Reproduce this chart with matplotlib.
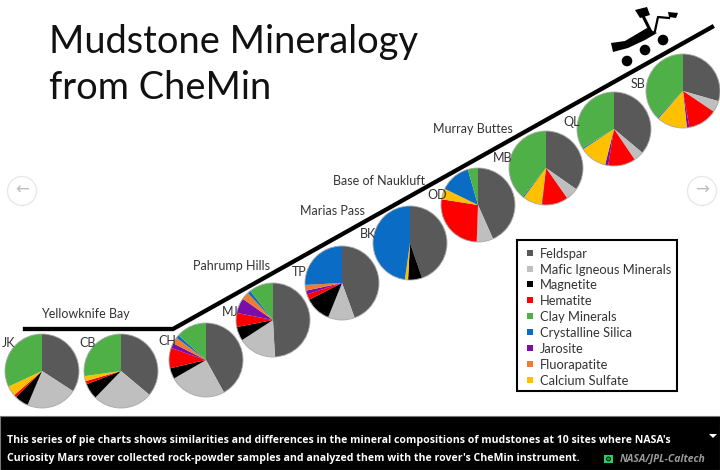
import matplotlib
matplotlib.use('Agg')
import matplotlib.pyplot as plt
from matplotlib.patches import Circle, Polygon, Rectangle

plt.rcParams['font.family'] = ['Lato', 'DejaVu Sans']

minerals = ['Feldspar', 'Mafic Igneous Minerals', 'Magnetite', 'Hematite', 'Clay Minerals',
            'Crystalline Silica', 'Jarosite', 'Fluorapatite', 'Calcium Sulfate']
colors = {'Feldspar': '#595959', 'Mafic Igneous Minerals': '#bfbfbf', 'Magnetite': '#000000',
          'Hematite': '#ff0000', 'Clay Minerals': '#4fb047', 'Crystalline Silica': '#0a6cc4',
          'Jarosite': '#7b0ea8', 'Fluorapatite': '#ed7d31', 'Calcium Sulfate': '#ffc000'}
# clockwise drawing order in every pie
pie_order = ['Feldspar', 'Mafic Igneous Minerals', 'Magnetite', 'Hematite', 'Jarosite',
             'Fluorapatite', 'Calcium Sulfate', 'Crystalline Silica', 'Clay Minerals']

# wedge sizes in degrees, same order as pie_order
sites = ['JK', 'CB', 'CH', 'MJ', 'TP', 'BK', 'OD', 'MB', 'QL', 'SB']
jk = [123, 80, 22, 4, 0, 0, 16, 0, 115]
cb = [130, 94, 25, 5, 0, 0, 8, 0, 98]
ch = [151, 89, 17, 32, 8, 10, 0, 5, 48]
mj = [177, 60, 22, 22, 24, 12, 0, 5, 38]
tp = [160, 42, 41, 9, 6, 9, 0, 93, 0]
bk = [161, 0, 22, 0, 0, 0, 5, 172, 0]
od = [156, 26, 0, 97, 0, 0, 17, 48, 16]
mb = [125, 20, 0, 41, 1, 0, 30, 2, 141]
ql = [130, 16, 0, 43, 5, 0, 43, 2, 121]
sb = [106, 18, 0, 46, 4, 0, 48, 2, 136]
site_values = [jk, cb, ch, mj, tp, bk, od, mb, ql, sb]

# pie centres and labels, in picture pixels
centers = [(42, 371), (121, 371), (206, 360), (273, 320), (342, 283),
           (410, 243), (478, 205), (546, 168), (614, 129), (683, 91)]
label_pos = [(2, 343), (79, 343), (158, 341), (222, 312), (292, 272),
             (360, 234), (427, 195), (493, 158), (563, 122), (631, 84)]
RADIUS = 37

areas = ['Yellowknife Bay', 'Pahrump Hills', 'Marias Pass', 'Base of Naukluft', 'Murray Buttes']
area_pos = [(41, 314), (193, 266), (300, 211), (333, 181), (433, 129)]

fig = plt.figure(figsize=(7.2, 4.7), dpi=100, facecolor='white')
ax = fig.add_axes([0, 0, 1, 1])

# y axis is inverted below, so counterclock here comes out clockwise from 12 o'clock
for vals, c in zip(site_values, centers):
    ax.pie(vals, colors=[colors[m] for m in pie_order], startangle=270, counterclock=True,
           center=c, radius=RADIUS, frame=True,
           wedgeprops=dict(linewidth=0))
    ax.add_patch(Circle(c, RADIUS, fill=False, ec='#a8a8a8', lw=0.6, zorder=3))

ax.set_xlim(0, 720)
ax.set_ylim(470, 0)
ax.set_aspect('auto')
ax.axis('off')

# ground line
ax.plot([25, 173, 712], [329, 329, 27], color='black', lw=3.1, solid_joinstyle='miter', zorder=2)

ax.text(49, 42, 'Mudstone Mineralogy', fontsize=27.4, color='#111111', va='center')
ax.text(49, 88, 'from CheMin', fontsize=27.4, color='#111111', va='center')

for s, p in zip(sites, label_pos):
    ax.text(p[0], p[1], s, fontsize=9, color='#333333', va='center', zorder=4)
for s, p in zip(areas, area_pos):
    ax.text(p[0], p[1], s, fontsize=9, color='#333333', va='center')

# legend box
ax.add_patch(Rectangle((517, 240), 160, 151, fill=False, ec='black', lw=1.5, zorder=3))
legend_y = [253, 269, 284, 300, 316, 332, 348, 364, 380]
for m, y in zip(minerals, legend_y):
    ax.add_patch(Rectangle((527, y - 3), 6, 6, fc=colors[m], ec='none', zorder=3))
    ax.text(540, y + 1, m, fontsize=9.3, color='#333333', va='center')

# rover
ax.add_patch(Polygon([(611, 43), (625, 41), (647, 28), (657, 33), (645, 40), (628, 48), (613, 52)],
                     fc='black', ec='none', zorder=4))
ax.add_patch(Polygon([(635, 10), (647, 7), (650, 15), (640, 18)], fc='black', ec='none', zorder=4))
ax.add_patch(Polygon([(668, 12), (678, 13), (676, 18), (669, 17)], fc='black', ec='none', zorder=4))
ax.plot([643, 650], [16, 30], color='black', lw=2.2, zorder=4)
ax.plot([655, 658, 669], [31, 17, 18], color='black', lw=1.6, zorder=4)
for wx, wy in [(627, 61), (645, 50), (663, 40)]:
    ax.add_patch(Circle((wx, wy), 5.3, fc='black', ec='none', zorder=4))

# slideshow arrows
for cx, ch_ in [(22, '←'), (702, '→')]:
    ax.add_patch(Circle((cx, 191), 14.5, fc='white', ec='#e8e8e8', lw=1, zorder=5))
    ax.text(cx, 190, ch_, fontsize=12, color='#bdbdbd', ha='center', va='center', zorder=6,
            family='DejaVu Sans')

# caption bar
ax.add_patch(Rectangle((0, 416), 720, 54, fc='black', ec='#777777', lw=0.8, zorder=5))
ax.text(7, 440, "This series of pie charts shows similarities and differences in the mineral compositions of mudstones at 10 sites where NASA's",
        fontsize=7.6, color='white', fontweight='bold', va='center', family='Open Sans', zorder=6)
ax.text(7, 459, "Curiosity Mars rover collected rock-powder samples and analyzed them with the rover's CheMin instrument.",
        fontsize=7.6, color='white', fontweight='bold', va='center', family='Open Sans', zorder=6)
ax.text(620, 459, 'NASA/JPL-Caltech', fontsize=7.5, color='#9a9a9a', style='italic', fontweight='bold',
        va='center', family='Open Sans', zorder=6)
ax.add_patch(Rectangle((604, 455), 9, 8, fc='#2ecc71', ec='none', zorder=6))
ax.add_patch(Circle((608.5, 459), 2, fc='#0a3', ec='black', lw=0.6, zorder=7))
ax.add_patch(Polygon([(709, 434), (717, 434), (713, 438)], fc='white', ec='none', zorder=6))

fig.savefig('out.png', dpi=100)
